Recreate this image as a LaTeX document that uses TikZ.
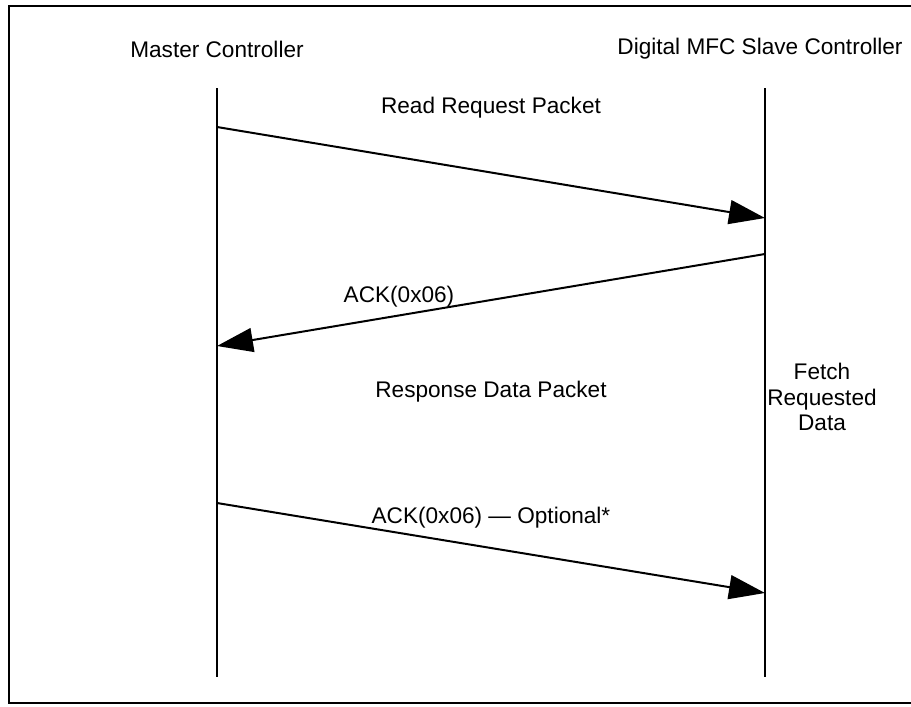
\documentclass[tikz,border=0pt]{standalone}
\usepackage{fontspec}
\setmainfont{Liberation Sans}
\usetikzlibrary{arrows.meta}

\begin{document}
\begin{tikzpicture}
[
x=0.5pt, y=-0.5pt,
every node/.style={font=\fontsize{11.3}{12.75}\selectfont, inner sep=0pt},
lifeline/.style={line width=1pt},
msg/.style={line width=1pt, -{Triangle[length=18pt, width=12pt]}},
frame/.style={line width=1.3pt}
]
\useasboundingbox (0,0) rectangle (911,707);
\draw[frame] (925,6) -- (9,6) -- (9,703) -- (925,703);

% titles and lifelines
\node (master) at (217,49) {Master Controller};
\node (slave) at (760,49) {Digital MFC Slave Controller};
\coordinate (mtop) at (217,88);
\coordinate (mbot) at (217,677);
\coordinate (stop) at (765,88);
\coordinate (sbot) at (765,677);
\draw[lifeline] (mtop) -- (mbot);
\draw[lifeline] (stop) -- (sbot);

% messages
\coordinate (m1) at (217,127);
\coordinate (s1) at (765,218);
\coordinate (s2) at (765,254);
\coordinate (m2) at (217,346);
\coordinate (m3) at (217,503);
\coordinate (s3) at (765,593);
\draw[msg] (m1) -- (s1);
\draw[msg] (s2) -- (m2);
\draw[msg] (m3) -- (s3);

\node (req) at (491,108) {Read Request Packet};
\node (ack) at (399,297) {ACK(0x06)};
\node (resp) at (491,392) {Response Data Packet};
\node (opt) at (491,518) {ACK(0x06) — Optional*};
\node (fetch) [align=center] at (822,397) {Fetch\\Requested\\Data};
\end{tikzpicture}
\end{document}
